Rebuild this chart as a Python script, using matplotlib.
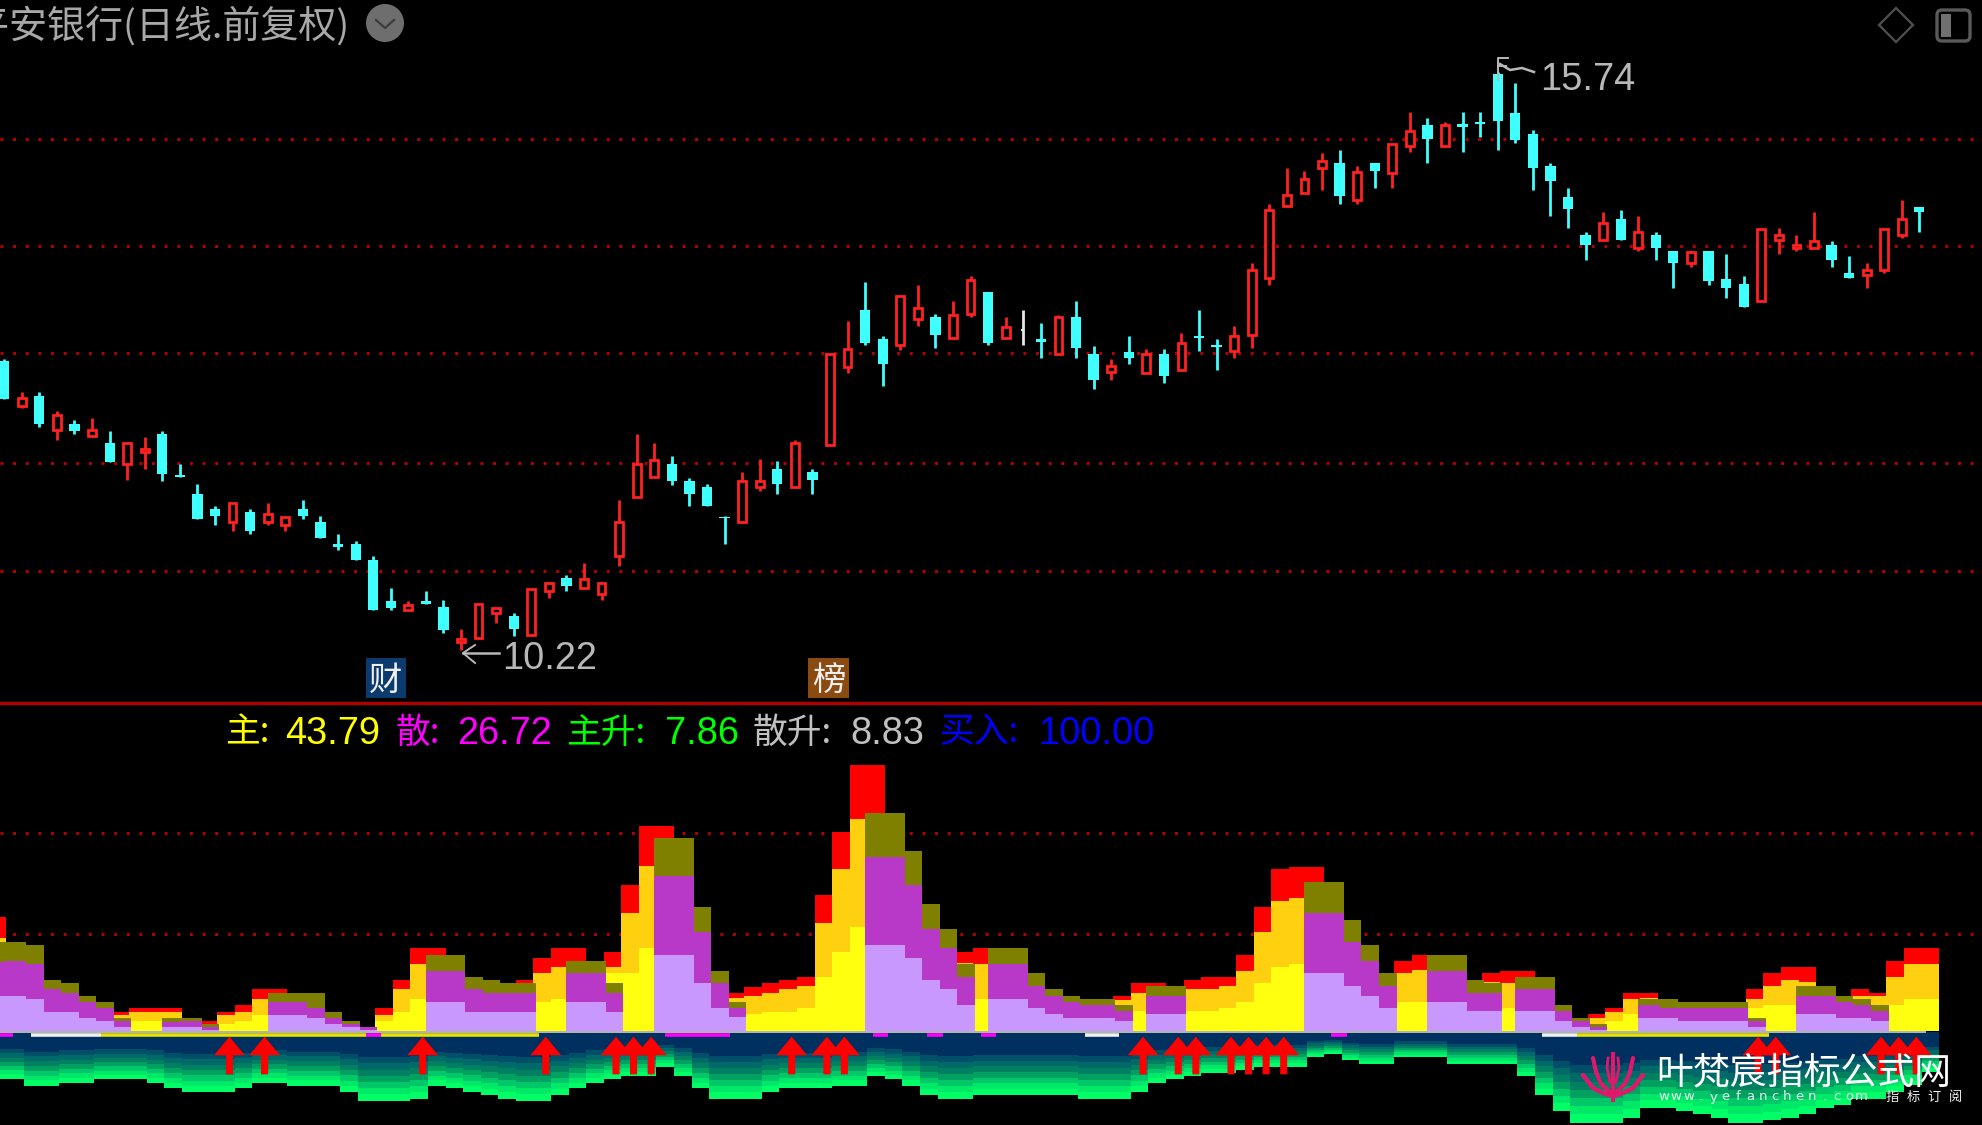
"""Daily candles with a stacked main/retail money indicator below, black terminal look."""
import numpy as np
import matplotlib
matplotlib.use("Agg")
import matplotlib.pyplot as plt
from matplotlib.patches import Ellipse, Rectangle, FancyBboxPatch, Polygon

W, H = 1983, 1125
CJK = ["Noto Sans CJK SC", "DejaVu Sans"]
NUM = "Liberation Sans"

# candles
highs = [13.00,12.68,12.68,12.50,12.41,12.43,12.31,12.19,12.25,12.31,
         11.99,11.80,11.59,11.62,11.56,11.62,11.49,11.65,11.50,11.32,
         11.26,11.11,10.81,10.68,10.78,10.69,10.42,10.66,10.62,10.57,
         10.80,10.86,10.93,11.05,10.86,11.65,12.28,12.19,12.07,11.86,
         11.80,11.50,11.92,12.04,12.02,12.22,11.95,13.04,13.36,13.73,
         13.22,13.60,13.70,13.43,13.55,13.79,13.64,13.40,13.46,13.34,
         13.42,13.55,13.12,13.00,13.22,13.09,13.09,13.24,13.46,13.19,
         13.31,13.91,14.48,14.82,14.79,14.96,14.99,14.84,14.87,15.05,
         15.36,15.30,15.26,15.36,15.36,15.74,15.63,15.18,14.87,14.63,
         14.21,14.40,14.42,14.36,14.21,14.03,14.03,14.03,14.00,13.79,
         14.24,14.25,14.18,14.40,14.12,13.98,13.91,14.24,14.52,14.45]
lows = [12.61,12.53,12.35,12.22,12.28,12.26,12.01,11.84,11.95,11.83,
        11.87,11.47,11.41,11.35,11.32,11.41,11.35,11.47,11.29,11.17,
        11.08,10.60,10.60,10.60,10.66,10.38,10.22,10.33,10.47,10.35,
        10.36,10.71,10.78,10.81,10.69,11.02,11.68,11.87,11.79,11.59,
        11.59,11.23,11.44,11.74,11.71,11.77,11.71,12.17,12.86,13.13,
        12.74,13.08,13.31,13.10,13.20,13.40,13.13,13.20,13.13,13.01,
        13.04,13.01,12.71,12.80,12.95,12.86,12.77,12.89,13.07,12.89,
        13.01,13.10,13.70,14.46,14.58,14.61,14.48,14.48,14.63,14.63,
        14.97,14.87,15.03,14.97,15.12,14.99,15.06,14.61,14.36,14.25,
        13.94,14.13,14.13,14.03,13.94,13.67,13.88,13.70,13.58,13.49,
        13.55,14.00,14.03,14.06,13.88,13.77,13.67,13.82,14.15,14.21]
opens = [12.98,12.55,12.64,12.32,12.38,12.26,12.19,11.99,12.11,12.28,
         11.89,11.71,11.56,11.44,11.53,11.44,11.41,11.56,11.44,11.23,
         11.23,11.08,10.68,10.60,10.68,10.63,10.29,10.33,10.57,10.54,
         10.36,10.78,10.90,10.81,10.75,11.11,11.68,11.87,11.99,11.83,
         11.77,11.49,11.44,11.77,11.95,11.77,11.92,12.17,12.92,13.46,
         13.19,13.13,13.38,13.40,13.20,13.43,13.64,13.20,13.27,13.19,
         13.04,13.40,13.04,12.87,13.06,12.86,13.04,12.89,13.22,13.13,
         13.07,13.23,13.77,14.46,14.58,14.82,14.87,14.52,14.87,14.77,
         15.03,15.23,15.03,15.24,15.26,15.72,15.35,15.15,14.84,14.54,
         14.18,14.13,14.33,14.06,14.18,14.03,13.91,14.03,13.76,13.71,
         13.55,14.13,14.06,14.06,14.09,13.82,13.80,13.85,14.18,14.45]
closes = [12.61,12.62,12.38,12.46,12.31,12.32,12.01,12.19,12.14,11.90,
          11.87,11.47,11.50,11.62,11.35,11.52,11.49,11.50,11.29,11.20,
          11.08,10.60,10.62,10.65,10.66,10.41,10.32,10.66,10.62,10.42,
          10.80,10.86,10.83,10.89,10.86,11.44,11.99,12.03,11.83,11.71,
          11.59,11.48,11.83,11.83,11.80,12.19,11.84,13.04,13.09,13.15,
          12.95,13.60,13.48,13.23,13.42,13.75,13.15,13.30,13.27,13.16,
          13.40,13.10,12.80,12.93,13.01,13.04,12.83,13.15,13.20,13.11,
          13.22,13.85,14.42,14.56,14.72,14.89,14.55,14.78,14.79,15.05,
          15.17,15.10,15.23,15.21,15.24,15.27,15.09,14.82,14.70,14.43,
          14.09,14.30,14.13,14.21,14.06,13.91,14.02,13.74,13.67,13.49,
          14.24,14.18,14.09,14.12,13.94,13.77,13.85,14.24,14.33,14.40]
price_grid = [15.10, 14.08, 13.05, 12.00, 10.97]

# indicator stacks: the "up" stack sits behind the "down" stack
red_top = [97.7,0,0,0,0,0,0,16.3,19.1,19.1,
           19.1,0,8.3,16.3,22,35.4,35.4,0,0,0,
           0,0,19.1,43.4,70.6,70.6,0,0,0,0,
           43.4,62.6,70.6,70.6,0,67.7,124.9,175.7,175.7,0,
           0,0,32.6,37.7,40.6,43.4,46.3,116.3,170.6,227.4,
           227.4,0,0,0,0,67.7,70.6,0,0,0,
           0,0,0,0,30,40.6,40.6,0,43.4,46.3,
           46.3,64.9,105.7,138.3,140.6,140.6,0,0,0,0,
           59.7,64.9,0,0,0,49.1,51.4,51.4,0,0,
           0,14,19.1,32.6,32.6,0,0,0,0,0,
           35.4,49.1,54.3,54.3,0,0,35.4,32,59.7,70.6,70.6]
orange_top = [79.1,0,0,0,0,0,0,13.4,16.3,16.3,
              16.3,0,5.7,13.4,16.3,27.1,32.6,0,0,0,
              0,0,13.4,35.4,57.1,57.1,0,0,0,0,
              37.7,49.1,54.3,54.9,0,54.3,100.6,141.1,146.3,0,
              0,0,27.7,29.7,32.6,35.4,38.3,92.6,138.3,181.4,
              186.3,0,0,0,0,57.7,56.9,0,0,0,
              0,0,0,0,26.3,32.6,34.9,0,35.4,35.4,
              38.3,51.4,84.3,111.1,114,114.9,0,0,0,0,
              49.1,52,0,0,0,42,40.6,43.4,0,0,
              0,11.1,16.3,27.1,27.7,0,0,0,0,0,
              27.1,38.3,43.4,42,0,0,30,30,46.3,57.1,57.1]
yellow_top = [54.9,0,0,0,0,0,0,8.3,8.3,8.3,
              8.3,0,2.9,5.7,8.3,13.4,12,0,0,0,
              0,0,8.3,16.3,27.1,27.1,0,0,0,0,
              17.7,24.6,27.1,27.1,0,49.1,49.1,70.6,70.6,0,
              0,0,14.9,14,16.3,16.3,19.1,46.3,67.7,89.1,
              89.1,0,0,0,0,29.1,27.1,0,0,0,
              0,0,0,0,16.6,16.6,16.6,0,16.6,16.6,
              19.1,24.9,41.1,54.3,56.9,57.7,0,0,0,0,
              24.9,24.9,0,0,0,19.1,19.1,19.1,0,0,
              0,5.7,8.6,14,14,0,0,0,0,0,
              19.1,22,22,22,0,0,19.1,17.7,22,27.1,27.1]
olive_top = [76.3,76.3,73.4,43.4,40.6,30,24.6,11.1,0,0,
             10.6,11.1,5.4,0,0,0,32.6,32.6,32.6,16.3,
             8.3,2.9,0,0,0,64.9,64.9,46.3,43.4,40.6,
             40.6,0,0,59.7,59.7,40.6,0,0,164.9,164.9,
             105.7,51.4,24.6,0,0,0,0,0,0,0,
             186.9,186.9,154.3,108.6,86.9,56.9,0,70.6,70.6,49.1,
             35.4,30,27.1,27.1,22,0,38.3,38.3,0,0,
             0,0,0,0,0,127.1,127.1,94.9,73.4,49.1,
             0,0,64.9,64.9,43.4,40.6,0,46.3,46.3,22,
             11.1,5.7,0,0,27.1,27.1,24.6,24.6,24.6,24.6,
             11.1,0,0,38.3,38.3,30,27.1,22,0,0,0]
purple_top = [59.1,59.7,57.1,35.4,32.6,24.6,19.1,8.3,0,0,
              7.7,8.3,2.9,0,0,0,24.6,24.6,19.1,11.1,
              5.7,2.9,0,0,0,51.4,51.4,35.4,32.6,32.6,
              32.6,0,0,49.1,49.1,32.6,0,0,132.9,132.9,
              84.3,40.6,19.1,0,0,0,0,0,0,0,
              149.1,149.1,124.9,86.9,70.6,46.3,0,56.9,56.9,38.3,
              30,24.6,22,22,16.6,0,30,30,0,0,
              0,0,0,0,0,100.6,100.6,76.3,59.7,38.3,
              0,0,51.4,51.4,32.6,32.6,0,35.4,35.4,16.6,
              8.6,3.4,0,0,22,19.1,19.1,19.1,19.1,19.1,
              8.6,0,0,30,30,24.6,22,16.6,0,0,0]
lilac_top = [29.7,29.7,27.1,16.3,16.3,11.1,8.3,2.9,0,0,
             2.9,2.9,0.6,0,0,0,13.4,13.4,11.1,5.7,
             2.9,0.6,0,0,0,24.6,24.6,16.3,16.3,16.3,
             16.3,0,0,24.6,24.6,16.3,0,0,64.9,64.9,
             41.1,19.1,11.4,0,0,0,0,0,0,0,
             73.4,73.4,62.6,43.4,35.4,22,0,27.1,27.1,19.1,
             14,11.1,11.1,11.1,8.3,0,14,14,0,0,
             0,0,0,0,0,49.1,49.1,38.3,30,19.1,
             0,0,24.9,24.9,16.6,16.6,0,16.6,16.6,8.6,
             2.9,0.6,0,0,11.1,11.1,8.6,8.6,8.6,8.6,
             2.9,0,0,14,14,11.1,11.1,8.6,0,0,0]
strip_bottom = [-40,-40,-45.7,-45.7,-42.9,-42.9,-40.3,-40.3,-40.3,-42.9,
                -48,-50.9,-50.9,-50.9,-48,-42.9,-42.9,-45.7,-45.7,-45.7,
                -50.9,-58.9,-58.9,-58.9,-56.6,-45.7,-48,-50.9,-53.7,-56.6,
                -58.9,-58.9,-53.7,-48,-42.9,-40,-37.4,-37.4,-29.4,-37.4,
                -48,-56.6,-56.6,-56.6,-50.9,-48,-48,-48,-45.7,-45.7,
                -37.4,-40.3,-45.7,-53.7,-56.6,-56.6,-53.7,-53.7,-53.7,-53.7,
                -53.7,-53.7,-56.6,-56.6,-56.6,-50.9,-42.9,-40.3,-37.4,-34.6,
                -34.6,-32.3,-29.4,-29.4,-29.4,-20.9,-18.3,-24,-26.9,-26.9,
                -21,-21,-21,-26.9,-26.9,-26.9,-26.9,-37.4,-53.7,-67.4,
                -78,-78,-78,-72.9,-64.6,-64.6,-67.4,-70,-72.9,-78,
                -78,-75.4,-72.9,-70,-64.6,-62,-56.6,-56.6,-50.9,-45.1,-33.7]
signal_candles = [13,15,24,31,35,36,37,45,47,48,65,67,68,70,71,72,73,100,101,107,108,109]
indicator_grid = [169.7, 82.9]
state_spans = [(0.1,0.9,"#FF00FF"),(1.9,5.9,"#F0F0F0"),(5.9,21,"#E8E000"),(21,21.8,"#FF00FF"),
               (21.8,30.8,"#E8E000"),(38,41.7,"#FF00FF"),(49.8,50.7,"#FF00FF"),(52.9,53.8,"#FF00FF"),
               (56,56.8,"#FF00FF"),(61.9,63.8,"#F0F0F0"),(75.9,76.8,"#FF00FF"),(87.9,89.9,"#F0F0F0"),
               (89.9,100.8,"#E8E000")]
legend_labels = ["主:", "散:", "主升:", "散升:", "买入:"]
legend_values = ["43.79", "26.72", "7.86", "8.83", "100.00"]
legend_colors = ["#FFFF00", "#FF00FF", "#00FF00", "#C0C0C0", "#0000FF"]
legend_label_x = [225, 396, 566, 753, 939]
legend_value_x = [285, 457, 665, 850, 1038]

XLIM = (0.142, 113.0)
CANDLE_SHIFT = 0.38  # candles sit a little right of the indicator bars
ARROW_SHIFT = 0.2
RED, CYAN = "#FF2020", "#40FFFF"

plt.rcParams["font.family"] = CJK
fig = plt.figure(figsize=(W/100, H/100), dpi=100, facecolor="black")
SPLIT = 703
ax = fig.add_axes([0, 1-SPLIT/H, 1, SPLIT/H], facecolor="black")
ax2 = fig.add_axes([0, 0, 1, 1-SPLIT/H], facecolor="black")
for a in (ax, ax2):
    a.set_xlim(*XLIM); a.axis("off")
ax.set_ylim(9.71, 16.426)
ax2.set_ylim(-80.8, 280.9)

DOT = dict(color="#B80000", lw=2.1, linestyle=(0, (1, 3.33)), dash_capstyle="butt", zorder=1)
for p in price_grid:
    ax.axhline(p, **DOT)
for v in indicator_grid:
    ax2.axhline(v, **DOT)

# candles
x = np.arange(len(opens)) + CANDLE_SHIFT
for xi, o, h, l, c in zip(x, opens, highs, lows, closes):
    top, bot = max(o, c), min(o, c)
    if o == c:
        ax.vlines(xi, l, h, color="#E8E8E8", lw=2.0, zorder=3)
        ax.hlines(c, xi-0.15, xi, color="#E8E8E8", lw=1.5, zorder=3)
    elif c > o:
        ax.vlines(xi, top, h, color=RED, lw=2.0, zorder=3)
        ax.vlines(xi, l, bot, color=RED, lw=2.0, zorder=3)
        ax.bar(xi, top-bot, bottom=bot, width=0.44, facecolor="black", edgecolor=RED, lw=2.0, zorder=4)
    else:
        ax.vlines(xi, l, h, color=CYAN, lw=2.0, zorder=3)
        ax.bar(xi, top-bot, bottom=bot, width=0.58, color=CYAN, lw=0, zorder=4)

# stacks
j = np.arange(len(red_top))
for vals, col in ((red_top, "#FF0000"), (orange_top, "#FFD010"), (yellow_top, "#FFFF10")):
    ax2.bar(j, vals, width=1.0, color=col, lw=0, zorder=2)
for vals, col in ((olive_top, "#808000"), (purple_top, "#B838C8"), (lilac_top, "#C898FF")):
    ax2.bar(j, vals, width=1.25, color=col, lw=0, zorder=3)

# green strip under the baseline, navy fading to bright green in steps
band_colors = ["#00305F", "#004F68", "#006A68", "#008060", "#00A060", "#00C868", "#00E868", "#00FF66"]
band_edges = [0, 0.36, 0.45, 0.54, 0.63, 0.72, 0.81, 0.90, 1.0]
depth = np.array(strip_bottom)
for k, col in enumerate(band_colors):
    ax2.bar(j, depth*(band_edges[k+1]-band_edges[k]), bottom=depth*band_edges[k]-1.5,
            width=1.0, color=col, lw=0, zorder=2)
ax2.plot([XLIM[0], 109.7], [-0.8, -0.8], color="#B8B8B8", lw=1.4, zorder=5)
for a, b, col in state_spans:
    ax2.plot([a, b], [-3.7, -3.7], color=col, lw=2.6, solid_capstyle="butt", zorder=6)

# buy arrows
for i in signal_candles:
    xc = i + ARROW_SHIFT
    ax2.fill([xc, xc+0.88, xc+0.2, xc+0.2, xc-0.2, xc-0.2, xc-0.88],
             [-5.1, -21, -21, -37.4, -37.4, -21, -21], color="#FF0000", lw=0, zorder=7)

# pixel overlay for the terminal decorations
ov = fig.add_axes([0, 0, 1, 1], facecolor="none")
ov.set_xlim(0, W); ov.set_ylim(H, 0); ov.axis("off")
ov.plot([0, W], [SPLIT, SPLIT], color="#B00000", lw=2.4)

ov.text(-29, 27, "平安银行(日线.前复权)", color="#A8A8A8", fontsize=27.4, va="center", ha="left")
ov.add_patch(Ellipse((385, 23), 38, 38, color="#6E6E6E", lw=0))
ov.plot([376, 385, 394], [20, 28, 20], color="#3C3C3C", lw=1.6)
ov.add_patch(Polygon([(1896, 8), (1913, 25), (1896, 42), (1879, 25)], closed=True, fill=False, ec="#505050", lw=1.6))
ov.add_patch(FancyBboxPatch((1938, 11), 31, 29, boxstyle="round,pad=1,rounding_size=5", fill=False, ec="#5A5A5A", lw=2.4))
ov.add_patch(Rectangle((1941, 14), 10, 23, color="#707070", lw=0))

# low and high marks
ov.plot([463, 499], [653, 653], color="#B8B8B8", lw=1.8)
ov.plot([475, 463, 475], [645, 653, 663], color="#B8B8B8", lw=1.4)
ov.text(502, 659, "10.22", color="#B8B8B8", fontsize=27.4, family=NUM, va="center", ha="left")
ov.plot([1500, 1510, 1522, 1534], [64, 70, 68, 72], color="#B8B8B8", lw=1.8)
ov.plot([1498, 1498, 1508], [80, 58, 58], color="#B8B8B8", lw=1.4)
ov.plot([1498, 1506], [66, 66], color="#B8B8B8", lw=1.4)
ov.text(1540, 80, "15.74", color="#B8B8B8", fontsize=27.4, family=NUM, va="center", ha="left")

# badges
ov.add_patch(Rectangle((366, 658), 40, 40, color="#0A3A6E", lw=0))
ov.text(386, 680, "财", color="#F0F0F0", fontsize=24, va="center", ha="center")
ov.add_patch(Rectangle((808, 658), 41, 40, color="#8B4A10", lw=0))
ov.text(828.5, 680, "榜", color="#F0F0F0", fontsize=24, va="center", ha="center")

# value row
for lab, val, col, lx, vx in zip(legend_labels, legend_values, legend_colors, legend_label_x, legend_value_x):
    ov.text(lx, 733, lab, color=col, fontsize=25, va="center", ha="left")
    ov.text(vx, 734, val, color=col, fontsize=27.4, family=NUM, va="center", ha="left")

# watermark
PINK = "#E0186C"
for sign in (-1, 1):
    ov.plot([1613+sign*30, 1613+sign*20, 1613+sign*10, 1613+sign*1],
            [1075, 1088, 1093, 1096], color=PINK, lw=3.2, solid_capstyle="round")
    ov.plot([1613+sign*20, 1613+sign*17, 1613+sign*12, 1613+sign*3],
            [1058, 1072, 1084, 1092], color=PINK, lw=3.0, solid_capstyle="round")
    ov.plot([1613+sign*5, 1613+sign*6, 1613+sign*3], [1058, 1068, 1082], color=PINK, lw=2.0)
ov.plot([1613, 1613], [1054, 1100], color=PINK, lw=3.0)
ov.text(1656, 1073, "叶梵宸指标公式网", color="#FFFFFF", fontsize=26.6, va="center", ha="left")
for k, ch in enumerate("www.yefanchen.com"):
    ov.text(1664 + k*12.35, 1097, ch, color="#F0F0F0", fontsize=9.5, family="DejaVu Sans", va="center", ha="center")
for k, ch in enumerate("指标订阅"):
    ov.text(1892 + k*21, 1097, ch, color="#F0F0F0", fontsize=9.5, va="center", ha="center")

fig.savefig("out.png", dpi=100, facecolor="black")
